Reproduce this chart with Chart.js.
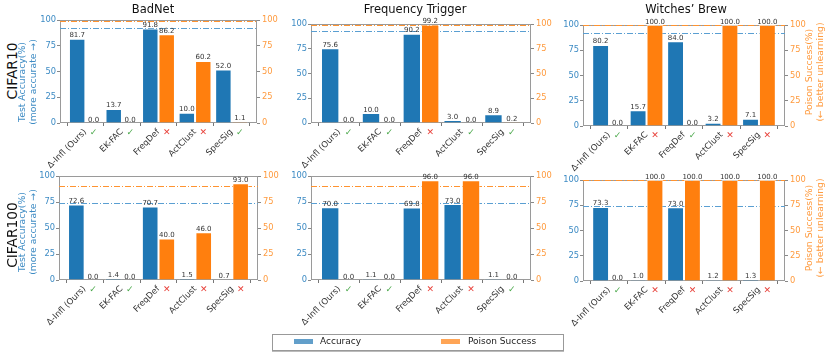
<!DOCTYPE html>
<html>
<head>
<meta charset="utf-8">
<script src="https://cdn.jsdelivr.net/npm/chart.js@4.4.0/dist/chart.umd.min.js"></script>
<style>
  body { margin: 0; background: #fff; width: 830px; height: 352px; overflow: hidden; position: relative; font-family: 'DejaVu Sans', sans-serif; }
  .abs { position: absolute; }
  .title { font-size: 11.5px; color: #111; white-space: nowrap; transform: translate(-50%, -50%); }
  .rot { white-space: nowrap; text-align: center; transform: translate(-50%, -50%) rotate(-90deg); }
  .row-label { font-size: 13.8px; color: #111; }
  .ax-label { font-size: 9.3px; line-height: 10.6px; }
  .legend { left: 272px; top: 334px; width: 290px; height: 15px; border: 1px solid #999; box-shadow: 0 1px 0 #bbb; font-size: 9px; color: #222; }
  .swatch { position: absolute; top: 4px; width: 19px; height: 5px; }
  .legend span { position: absolute; top: 1px; }
</style>
</head>
<body>
<script>
// categories shared by all panels
const methods = ['Δ-Infl (Ours)', 'EK-FAC', 'FreqDef', 'ActClust', 'SpecSig'];
const attacks = ['BadNet', 'Frequency Trigger', 'Witches\u2019 Brew'];
const datasets = ['CIFAR10', 'CIFAR100'];
const yTicks = [0, 25, 50, 75, 100];

// test accuracy (%) per panel, row by row
const accBadNet10 = [81.7, 13.7, 91.8, 10.0, 52.0];
const accFreq10 = [75.6, 10.0, 90.2, 3.0, 8.9];
const accWitch10 = [80.2, 15.7, 84.0, 3.2, 7.1];
const accBadNet100 = [72.6, 1.4, 70.7, 1.5, 0.7];
const accFreq100 = [70.0, 1.1, 69.8, 73.0, 1.1];
const accWitch100 = [73.3, 1.0, 73.0, 1.2, 1.3];

// poison success (%) per panel
const poisonBadNet10 = [0.0, 0.0, 86.2, 60.2, 1.1];
const poisonFreq10 = [0.0, 0.0, 99.2, 0.0, 0.2];
const poisonWitch10 = [0.0, 100.0, 0.0, 100.0, 100.0];
const poisonBadNet100 = [0.0, 0.0, 40.0, 46.0, 93.0];
const poisonFreq100 = [0.0, 0.0, 96.0, 96.0, 0.0];
const poisonWitch100 = [0.0, 100.0, 100.0, 100.0, 100.0];

// unlearning verdict per method (true = check, false = cross)
const okBadNet10 = [true, true, false, false, true];
const okFreq10 = [true, true, false, true, true];
const okWitch10 = [true, false, true, false, false];
const okBadNet100 = [true, true, false, false, false];
const okFreq100 = [true, true, false, false, true];
const okWitch100 = [true, false, false, false, false];

// reference levels (clean accuracy / poison success before unlearning)
const accRefs = [92.5, 92.5, 92.0, 73.7, 73.7, 74.3];
const poisonRefs = [99.0, 99.3, 100.0, 90.3, 90.3, 100.0];

const panels = [
    { acc: accBadNet10, poison: poisonBadNet10, ok: okBadNet10 },
    { acc: accFreq10, poison: poisonFreq10, ok: okFreq10 },
    { acc: accWitch10, poison: poisonWitch10, ok: okWitch10 },
    { acc: accBadNet100, poison: poisonBadNet100, ok: okBadNet100 },
    { acc: accFreq100, poison: poisonFreq100, ok: okFreq100 },
    { acc: accWitch100, poison: poisonWitch100, ok: okWitch100 }
];

// plot areas [left, top, right, bottom] in page pixels
const boxes = [
    [60, 20, 257, 123], [311, 24, 531, 123], [583, 25, 785, 126],
    [59, 176, 258, 280], [311, 176, 531, 280], [583, 180, 785, 281]
];

const BLUE = '#1f77b4';
const ORANGE = '#ff7f0e';
const BLUE_TXT = '#3d8bc4';
const ORANGE_TXT = '#ff9b3f';
const AX_W = 24, PAD_T = 16, PAD_B = 60;

Chart.defaults.font.family = "'DejaVu Sans', sans-serif";

const extras = {
    id: 'extras',
    beforeDatasetsDraw(chart) {
        const { ctx, chartArea: a, scales } = chart;
        const o = chart.options.plugins.extras;
        ctx.save();
        // frame
        ctx.strokeStyle = '#9a9a9a';
        ctx.lineWidth = 1;
        ctx.strokeRect(a.left + 0.5, a.top + 0.5, a.width - 1, a.height - 1);
        // dash-dot reference lines
        ctx.setLineDash([6, 2, 1, 2]);
        const refs = [[scales.y, o.accRef, '#5a9fd2'], [scales.y2, o.poisonRef, '#ff9330']];
        refs.forEach(([s, v, col]) => {
            const y = Math.round(s.getPixelForValue(v)) + 0.5;
            ctx.strokeStyle = col;
            ctx.beginPath();
            ctx.moveTo(a.left, y);
            ctx.lineTo(a.right, y);
            ctx.stroke();
        });
        ctx.restore();
    },
    afterDatasetsDraw(chart) {
        const { ctx, chartArea: a } = chart;
        const o = chart.options.plugins.extras;
        ctx.save();
        ctx.font = "7px 'DejaVu Sans'";
        ctx.fillStyle = '#333';
        ctx.textAlign = 'center';
        ctx.textBaseline = 'alphabetic';
        chart.data.datasets.forEach((ds, di) => {
            chart.getDatasetMeta(di).data.forEach((bar, i) => {
                ctx.fillText(ds.data[i].y.toFixed(1), bar.x, bar.y - 1.5);
            });
        });
        // check / cross under the poison bars
        const orangeBars = chart.getDatasetMeta(1).data;
        ctx.textBaseline = 'middle';
        o.ok.forEach((good, i) => {
            ctx.font = good ? "9px 'DejaVu Sans'" : "bold 9px 'DejaVu Sans'";
            ctx.fillStyle = good ? '#4aa84a' : '#e8413a';
            ctx.fillText(good ? '✓' : '✕', orangeBars[i].x, a.bottom + 10);
        });
        ctx.restore();
    }
};

function makePanel(p, box) {
    const [L, T, R, B] = box;
    const canvas = document.createElement('canvas');
    canvas.width = R - L + 2 * AX_W;
    canvas.height = B - T + PAD_T + PAD_B;
    canvas.className = 'abs';
    canvas.style.left = (L - AX_W) + 'px';
    canvas.style.top = (T - PAD_T) + 'px';
    document.body.appendChild(canvas);

    const n = methods.length;
    new Chart(canvas, {
        type: 'bar',
        data: {
            datasets: [
                { label: 'Accuracy', data: p.acc.map((v, i) => ({ x: i, y: v })), backgroundColor: BLUE,
                  borderColor: 'rgba(255,255,255,0.55)', borderWidth: 1, yAxisID: 'y', stack: 'acc' },
                { label: 'Poison Success', data: p.poison.map((v, i) => ({ x: i, y: v })), backgroundColor: ORANGE,
                  borderColor: 'rgba(255,255,255,0.55)', borderWidth: 1, yAxisID: 'y2', stack: 'poison' }
            ]
        },
        options: {
            responsive: false,
            animation: false,
            layout: { padding: { top: PAD_T, left: 0, right: 0, bottom: 0 } },
            categoryPercentage: 0.9,
            barPercentage: 1.0,
            plugins: {
                legend: { display: false },
                tooltip: { enabled: false },
                extras: { accRef: p.accRef, poisonRef: p.poisonRef, ok: p.ok }
            },
            scales: {
                x: {
                    type: 'linear', offset: false,
                    min: -0.695, max: n - 1 + 0.695,
                    afterBuildTicks: s => { s.ticks = methods.map((_, i) => ({ value: i })); },
                    afterFit: s => { s.height = PAD_B; },
                    ticks: { callback: v => methods[v], autoSkip: false, minRotation: 45, maxRotation: 45,
                             color: '#333', font: { size: 8.5 }, padding: 1 },
                    grid: { drawOnChartArea: false, tickLength: 3, tickColor: '#777' },
                    border: { display: false }
                },
                y: {
                    position: 'left', min: 0, max: 100,
                    afterBuildTicks: s => { s.ticks = yTicks.map(v => ({ value: v })); },
                    afterFit: s => { s.width = AX_W; },
                    ticks: { color: BLUE_TXT, font: { size: 8.3 }, padding: 1 },
                    grid: { drawOnChartArea: false, tickLength: 3, tickColor: '#888' },
                    border: { display: false }
                },
                y2: {
                    position: 'right', min: 0, max: 100,
                    afterBuildTicks: s => { s.ticks = yTicks.map(v => ({ value: v })); },
                    afterFit: s => { s.width = AX_W; },
                    ticks: { color: ORANGE_TXT, font: { size: 8.3 }, padding: 2 },
                    grid: { drawOnChartArea: false, tickLength: 3, tickColor: '#888' },
                    border: { display: false }
                }
            }
        },
        plugins: [extras]
    });
}

function addText(html, cls, x, y, style) {
    const d = document.createElement('div');
    d.className = 'abs ' + cls;
    d.innerHTML = html;
    d.style.left = x + 'px';
    d.style.top = y + 'px';
    if (style) Object.assign(d.style, style);
    document.body.appendChild(d);
}

panels.forEach((p, i) => {
    p.accRef = accRefs[i];
    p.poisonRef = poisonRefs[i];
    makePanel(p, boxes[i]);
});

// titles, row labels, axis labels
[153, 415, 686].forEach((x, i) => addText(attacks[i], 'title', x, 9));
[71, 235].forEach((y, i) => addText(datasets[i], 'rot row-label', 12, y));
[82, 232].forEach(y => addText('Test Accuracy(%)<br>(more accurate →)', 'rot ax-label', 28, y, { color: BLUE_TXT }));
[72, 228].forEach(y => addText('Poison Success(%)<br>(← better unlearning)', 'rot ax-label', 814.5, y, { color: ORANGE_TXT }));

// legend box
const legend = document.createElement('div');
legend.className = 'abs legend';
legend.innerHTML = `
    <div class="swatch" style="left:21px; background: rgb(98,159,202);"></div><span style="left:47px">Accuracy</span>
    <div class="swatch" style="left:168px; background: rgb(255,165,86);"></div><span style="left:195px">Poison Success</span>`;
document.body.appendChild(legend);
</script>
</body>
</html>
